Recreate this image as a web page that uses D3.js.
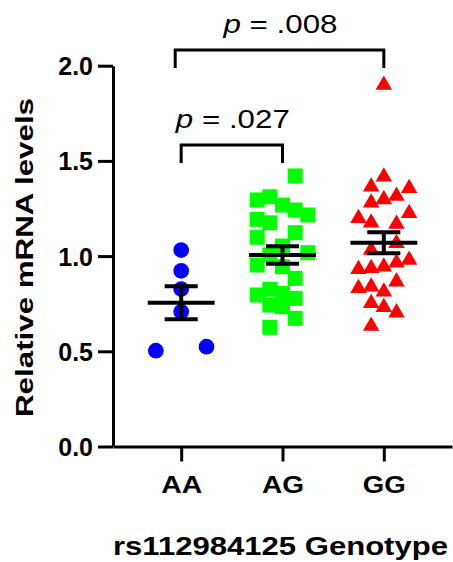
<!DOCTYPE html>
<html>
<head>
<meta charset="utf-8">
<script src="https://cdn.jsdelivr.net/npm/d3@7"></script>
<style>
  html, body { margin: 0; padding: 0; background: #fff; }
  svg { display: block; font-family: "Liberation Sans", Arial, sans-serif; }
  .axis path, .axis line { stroke: #000; stroke-width: 3; }
  .axis text { fill: #000; font-weight: bold; font-family: "Liberation Sans", Arial, sans-serif; }
</style>
</head>
<body>
<div id="chart"></div>
<script>
// Genotype groups
const genotypes = ['AA', 'AG', 'GG'];
const colors = ['#0000ff', '#00ff00', '#ff0000'];
const yTicks = [0, 0.5, 1.0, 1.5, 2.0];

// Individual values per group, and the column lane each point sits in (-2..2)
const aaValues = [1.032, 0.923, 0.827, 0.708, 0.503, 0.524];
const aaLanes  = [0, 0, 0, 0, -2, 2];

const agValues = [1.421, 1.295, 1.312, 1.268, 1.242, 1.216, 1.193, 1.175, 1.123, 1.099, 1.053, 1.018,
                  1.006, 0.953, 0.944, 0.883, 0.826, 0.796, 0.805, 0.778, 0.743, 0.734, 0.673, 0.626];
const agLanes  = [1, -2, -1, 0, 1, 2, -2, -1, 1, -2, 0, 2,
                  -1, -2, 0, 1, -1, -2, 0, 1, -1, 0, 1, -1];

const ggValues = [1.899, 1.417, 1.364, 1.356, 1.316, 1.298, 1.280, 1.225, 1.199, 1.175, 1.169, 1.067, 1.032,
                  0.980, 0.965, 0.931, 0.936, 0.944, 0.866, 0.831, 0.839, 0.813, 0.752, 0.731, 0.703, 0.633];
const ggLanes  = [0, 0, -1, 2, 1, 0, -1, 2, -2, -1, 1, 1, -1,
                  2, 1, -2, -1, 0, 1, -2, -1, 0, -1, 0, 1, -1];

// Mean and SEM as drawn
const means = [0.755, 1.006, 1.070];
const sems  = [0.087, 0.046, 0.055];

// Pairwise comparisons
const compFrom  = [0, 0];
const compTo    = [1, 2];
const compLevel = [1.583, 2.083];
const compP     = ['.027', '.008'];

const W = 453, H = 562;
const AXIS_X = 113, AXIS_Y = 446.5, TOP_Y = 65.7, RIGHT_X = 452;
const LANE = 0.125;
const MEAN_HALF = 0.33, CAP_HALF = 0.163;

const svg = d3.select('#chart').append('svg')
  .attr('width', W).attr('height', H)
  .attr('viewBox', `0 0 ${W} ${H}`);

const x = d3.scaleLinear().domain([-0.673, 2.673]).range([AXIS_X, RIGHT_X]);
const y = d3.scaleLinear().domain([0, 2]).range([AXIS_Y, TOP_Y]);

// Axes
svg.append('g')
  .attr('class', 'axis')
  .attr('transform', `translate(${AXIS_X},0)`)
  .call(d3.axisLeft(y).tickValues(yTicks).tickFormat(d3.format('.1f'))
    .tickSize(15).tickSizeOuter(0).tickPadding(5))
  .call(g => g.selectAll('text').attr('font-size', 25).attr('dy', '0.36em'));

svg.append('g')
  .attr('class', 'axis')
  .attr('transform', `translate(0,${AXIS_Y})`)
  .call(d3.axisBottom(x).tickValues([0, 1, 2]).tickFormat(i => genotypes[i])
    .tickSize(15).tickSizeOuter(0).tickPadding(0))
  .call(g => g.selectAll('text')
    .attr('font-size', 24)
    .attr('dy', null)
    .attr('y', 493 - AXIS_Y)
    .attr('textLength', (d, i) => [41, 42, 43][i])
    .attr('lengthAdjust', 'spacingAndGlyphs'));

// Axis titles
svg.append('text')
  .attr('transform', `translate(33,${(98 + 417) / 2}) rotate(-90)`)
  .attr('text-anchor', 'middle')
  .attr('font-size', 24)
  .attr('font-weight', 'bold')
  .attr('textLength', 319)
  .attr('lengthAdjust', 'spacingAndGlyphs')
  .text('Relative mRNA levels');

svg.append('text')
  .attr('x', AXIS_X)
  .attr('y', 555)
  .attr('font-size', 25)
  .attr('font-weight', 'bold')
  .attr('textLength', 335)
  .attr('lengthAdjust', 'spacingAndGlyphs')
  .text('rs112984125 Genotype');

// Points
const groups = [
  { values: aaValues, lanes: aaLanes, symbol: d3.symbolCircle, size: 195 },
  { values: agValues, lanes: agLanes, symbol: d3.symbolSquare, size: 225 },
  { values: ggValues, lanes: ggLanes, symbol: d3.symbolTriangle, size: 118 },
];

groups.forEach((grp, gi) => {
  svg.append('g')
    .selectAll('path')
    .data(grp.values)
    .join('path')
    .attr('d', d3.symbol().type(grp.symbol).size(grp.size))
    .attr('transform', (v, i) => `translate(${x(gi + grp.lanes[i] * LANE)},${y(v)})`)
    .attr('fill', colors[gi]);
});

// Mean +/- SEM
const stats = svg.append('g').attr('stroke', '#000').attr('stroke-width', 4);
genotypes.forEach((_, gi) => {
  stats.append('line')
    .attr('x1', x(gi - MEAN_HALF)).attr('x2', x(gi + MEAN_HALF))
    .attr('y1', y(means[gi])).attr('y2', y(means[gi]));
  stats.append('line')
    .attr('x1', x(gi)).attr('x2', x(gi))
    .attr('y1', y(means[gi] - sems[gi])).attr('y2', y(means[gi] + sems[gi]));
  [means[gi] - sems[gi], means[gi] + sems[gi]].forEach(v => {
    stats.append('line')
      .attr('x1', x(gi - CAP_HALF)).attr('x2', x(gi + CAP_HALF))
      .attr('y1', y(v)).attr('y2', y(v));
  });
});

// Significance brackets
const bracketDrop = 18;
compFrom.forEach((from, ci) => {
  const x1 = x(from) - (ci === 1 ? 6 : 0);
  const x2 = x(compTo[ci]);
  const yy = y(compLevel[ci]);
  svg.append('path')
    .attr('d', `M${x1},${yy + bracketDrop}V${yy}H${x2}V${yy + bracketDrop}`)
    .attr('fill', 'none')
    .attr('stroke', '#000')
    .attr('stroke-width', 3);

  const t = svg.append('text')
    .attr('x', (x1 + x2) / 2 + 1)
    .attr('y', yy - 17)
    .attr('text-anchor', 'middle')
    .attr('font-size', 25)
    .attr('textLength', 114)
    .attr('lengthAdjust', 'spacingAndGlyphs');
  t.append('tspan').attr('font-style', 'italic').text('p');
  t.append('tspan').text(` = ${compP[ci]}`);
});
</script>
</body>
</html>
